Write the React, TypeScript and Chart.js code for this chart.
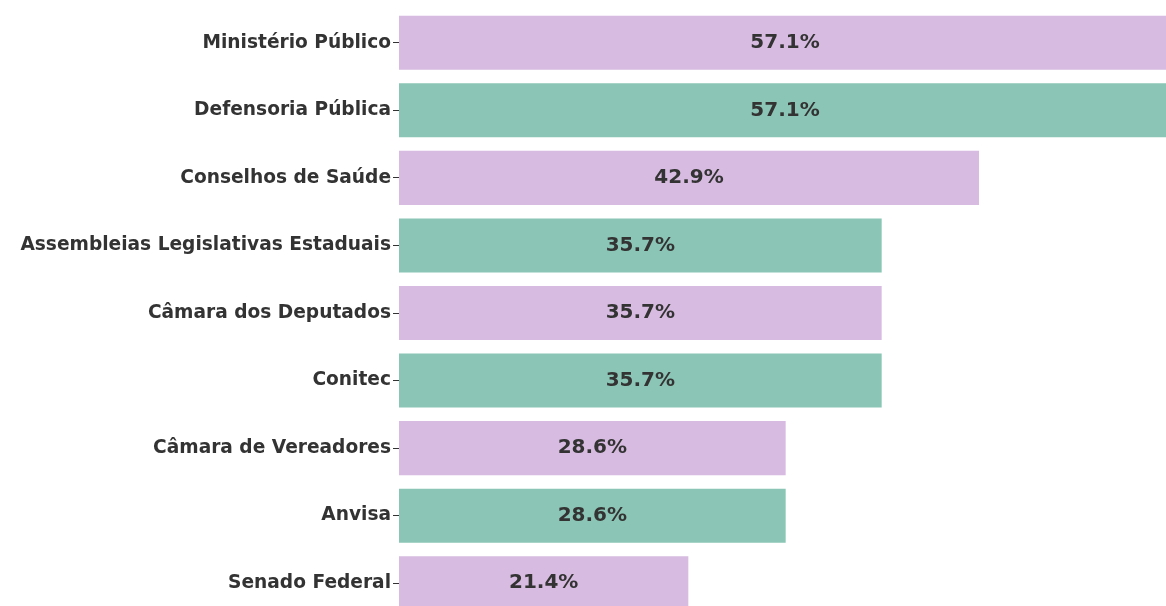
import React, { useEffect, useRef } from "react";
import { Chart, registerables } from "chart.js";

Chart.register(...registerables);

const categories = [
  "Ministério Público",
  "Defensoria Pública",
  "Conselhos de Saúde",
  "Assembleias Legislativas Estaduais",
  "Câmara dos Deputados",
  "Conitec",
  "Câmara de Vereadores",
  "Anvisa",
  "Senado Federal",
];
const values = [57.1, 57.1, 42.9, 35.7, 35.7, 35.7, 28.6, 28.6, 21.4];
const barColors = [
  "#d7bbe1",
  "#8bc5b5",
  "#d7bbe1",
  "#8bc5b5",
  "#d7bbe1",
  "#8bc5b5",
  "#d7bbe1",
  "#8bc5b5",
  "#d7bbe1",
];

const FONT = "'DejaVu Sans', 'Liberation Sans', sans-serif";

const valueLabelPlugin = {
  id: "valueLabels",
  afterDatasetsDraw(chart: any) {
    const ctx = chart.ctx;
    const meta = chart.getDatasetMeta(0);
    ctx.save();
    ctx.font = `bold 20px ${FONT}`;
    ctx.fillStyle = "#333333";
    ctx.textAlign = "center";
    ctx.textBaseline = "middle";
    meta.data.forEach((bar: any, i: number) => {
      const p = bar.getProps(["x", "y", "base"], true);
      ctx.fillText(values[i].toFixed(1) + "%", (p.x + p.base) / 2, p.y);
    });
    ctx.restore();
  },
};

export default function App() {
  const ref = useRef<HTMLCanvasElement | null>(null);

  useEffect(() => {
    document.documentElement.style.overflow = "hidden";
    document.body.style.overflow = "hidden";
    if (!ref.current) return;
    const chart = new Chart(ref.current, {
      type: "bar",
      data: {
        labels: categories,
        datasets: [
          {
            data: values,
            backgroundColor: barColors,
            borderWidth: 0,
            barPercentage: 0.8,
            categoryPercentage: 1,
          },
        ],
      },
      options: {
        indexAxis: "y",
        responsive: false,
        animation: false,
        devicePixelRatio: 1,
        layout: { padding: { top: 9, bottom: 3, left: 0, right: 0 } },
        plugins: {
          legend: { display: false },
          tooltip: { enabled: false },
          title: { display: false },
        },
        scales: {
          x: {
            display: false,
            min: 0,
            max: 57.1,
          },
          y: {
            afterFit: (s: any) => {
              s.width = 399;
              s.paddingTop = 0;
              s.paddingBottom = 0;
            },
            border: { display: false },
            grid: {
              display: true,
              offset: false,
              drawOnChartArea: false,
              drawTicks: true,
              tickLength: 6,
              tickWidth: 1,
              tickColor: "#333333",
            },
            ticks: {
              color: "#333333",
              padding: 2,
              font: { family: FONT, size: 18.6, weight: "bold" },
            },
          },
        },
      },
      plugins: [valueLabelPlugin],
    });
    return () => chart.destroy();
  }, []);

  return (
    <div
      style={{
        position: "absolute",
        left: 0,
        top: 0,
        width: 1171,
        height: 620,
        background: "#ffffff",
      }}
    >
      <canvas
        ref={ref}
        width={1171}
        height={620}
        style={{ display: "block", width: 1171, height: 620 }}
      />
    </div>
  );
}
